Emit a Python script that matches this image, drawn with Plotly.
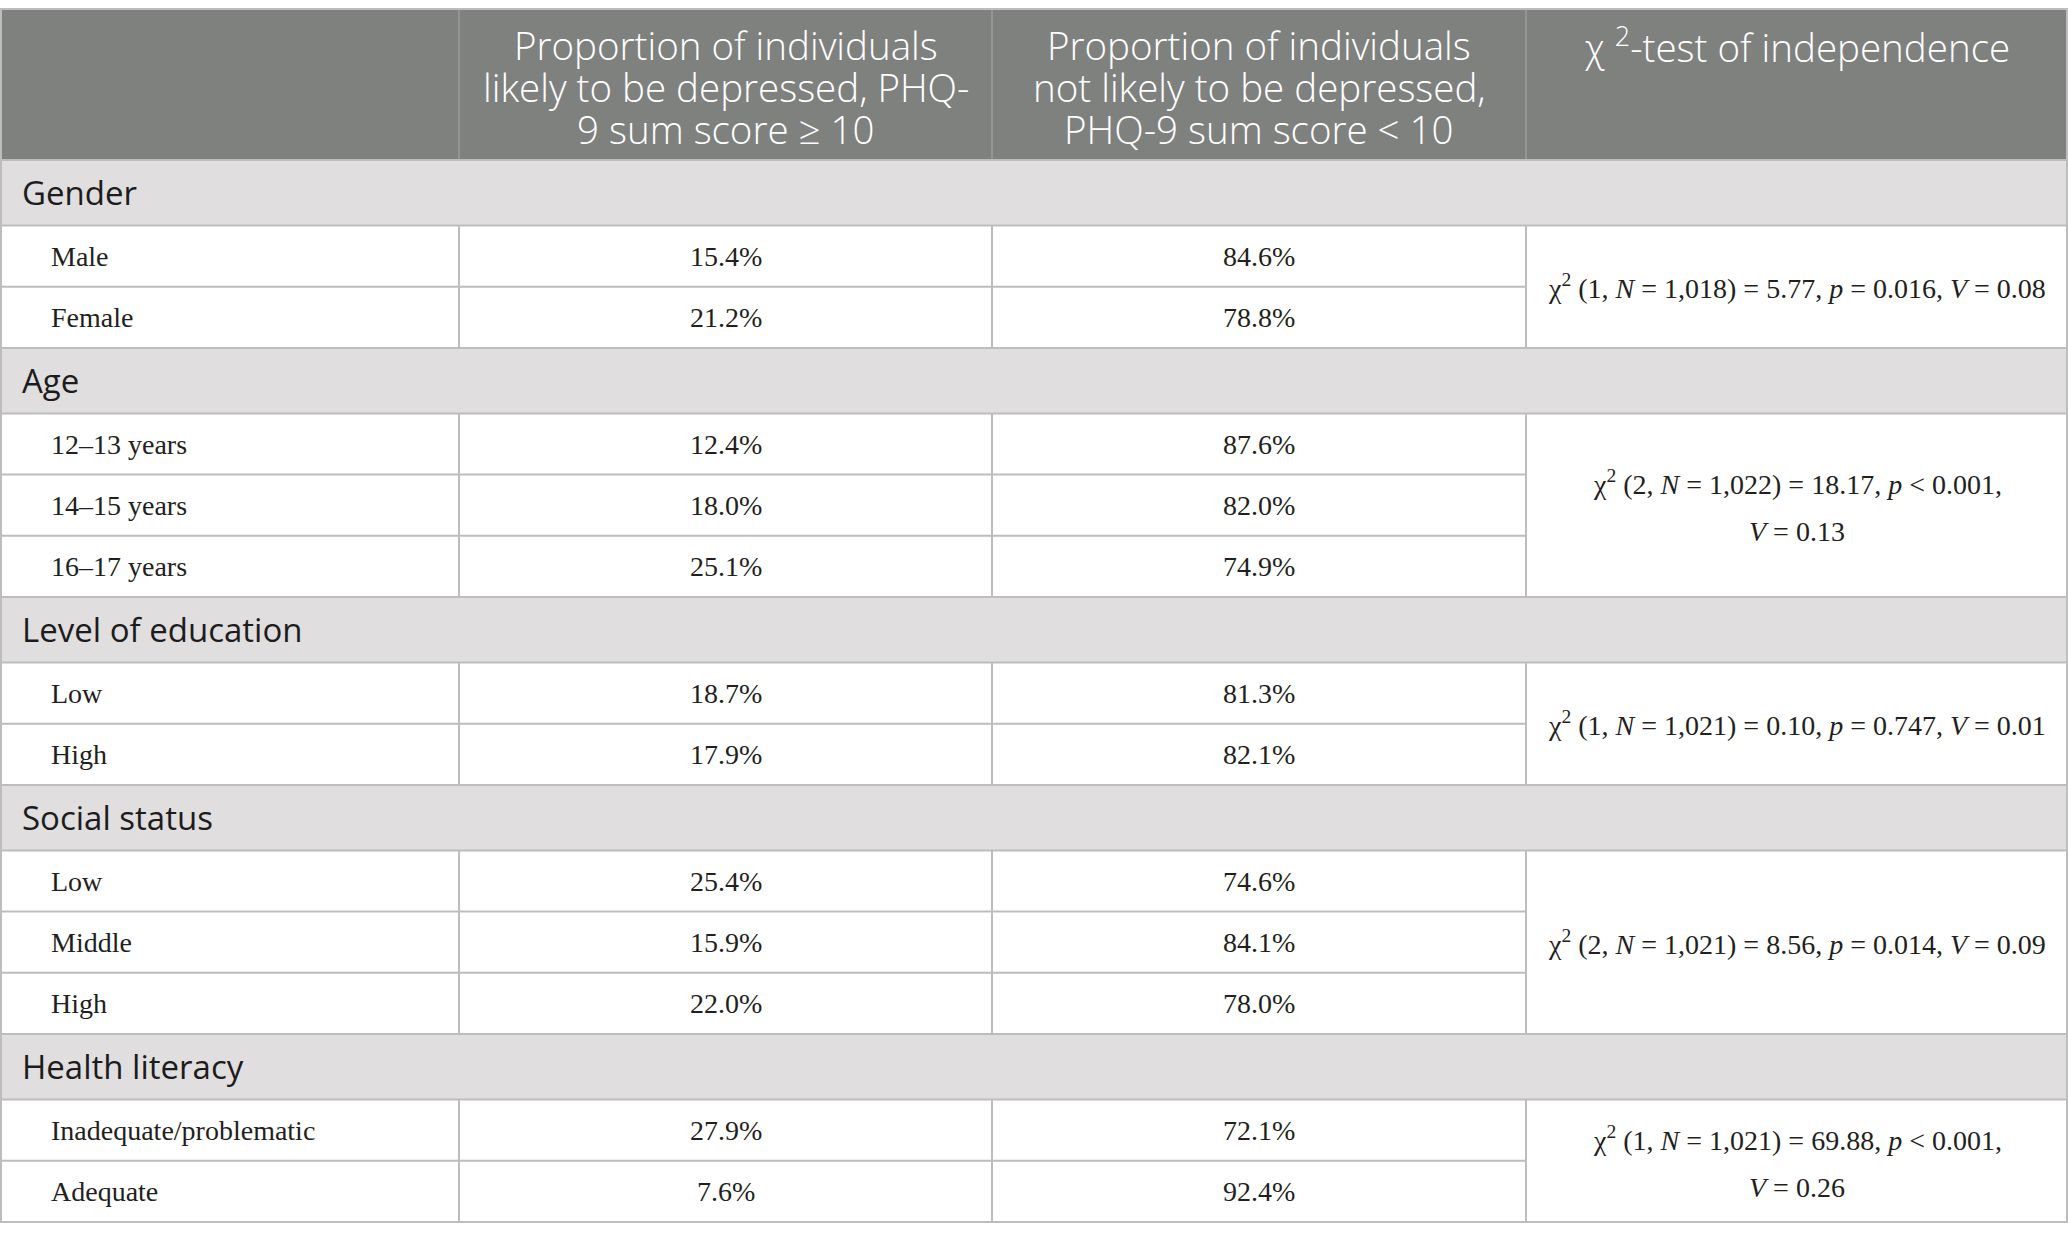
import plotly.graph_objects as go

# table content
groups = ["Gender", "Age", "Level of education", "Social status", "Health literacy"]
categories = [
    ["Male", "Female"],
    ["12–13 years", "14–15 years", "16–17 years"],
    ["Low", "High"],
    ["Low", "Middle", "High"],
    ["Inadequate/problematic", "Adequate"],
]
depressed = [[15.4, 21.2], [12.4, 18.0, 25.1], [18.7, 17.9], [25.4, 15.9, 22.0], [27.9, 7.6]]
not_depressed = [[84.6, 78.8], [87.6, 82.0, 74.9], [81.3, 82.1], [74.6, 84.1, 78.0], [72.1, 92.4]]
chi2_tests = [
    ["χ<sup>2</sup> (1, <i>N</i> = 1,018) = 5.77, <i>p</i> = 0.016, <i>V</i> = 0.08"],
    ["χ<sup>2</sup> (2, <i>N</i> = 1,022) = 18.17, <i>p</i> < 0.001,", "<i>V</i> = 0.13"],
    ["χ<sup>2</sup> (1, <i>N</i> = 1,021) = 0.10, <i>p</i> = 0.747, <i>V</i> = 0.01"],
    ["χ<sup>2</sup> (2, <i>N</i> = 1,021) = 8.56, <i>p</i> = 0.014, <i>V</i> = 0.09"],
    ["χ<sup>2</sup> (1, <i>N</i> = 1,021) = 69.88, <i>p</i> < 0.001,", "<i>V</i> = 0.26"],
]
headers = [
    [],
    ["Proportion of individuals", "likely to be depressed, PHQ-", "9 sum score ≥ 10"],
    ["Proportion of individuals", "not likely to be depressed,", "PHQ-9 sum score < 10"],
    ["χ <sup>2</sup>-test of independence"],
]

# layout (pixels)
W, H = 2068, 1241
col_x = [0, 459, 992, 1526, 2068]
top = 9
header_h = 151
sec_h = 65.5
row_h = 61.2

HEAD = "#7f817f"
SEC = "#e0dedf"
GRID = "#bdbdbd"
SANS = "Open Sans"
SERIF = "Liberation Serif"

fig = go.Figure()
shapes = []
ann = []


def hline(y, x0, x1):
    shapes.append(dict(type="line", x0=x0, x1=x1, y0=y, y1=y, line=dict(color=GRID, width=2)))


def vline(x, y0, y1, color=GRID, width=2):
    shapes.append(dict(type="line", x0=x, x1=x, y0=y0, y1=y1, line=dict(color=color, width=width)))


# header
shapes.append(dict(type="rect", x0=0, x1=W, y0=top, y1=top + header_h,
                   fillcolor=HEAD, line=dict(width=0), layer="below"))
for cx in col_x[1:-1]:
    vline(cx, top, top + header_h, color="#9a9b9a", width=1.5)
for c, lines in enumerate(headers):
    xc = (col_x[c] + col_x[c + 1]) / 2
    for i, txt in enumerate(lines):
        ann.append(dict(x=xc, y=top + 36 + 42 * i, text=txt, showarrow=False,
                        xanchor="center", yanchor="middle",
                        font=dict(family=SANS, size=38.5, color="white", weight=300)))

y = top + header_h
for g, name in enumerate(groups):
    # section row
    shapes.append(dict(type="rect", x0=0, x1=W, y0=y, y1=y + sec_h,
                       fillcolor=SEC, line=dict(width=0), layer="below"))
    hline(y, 0, W)
    ann.append(dict(x=20, y=y + sec_h / 2, text=name, showarrow=False,
                    xanchor="left", yanchor="middle",
                    font=dict(family=SANS, size=33, color="#1c1c1c")))
    y += sec_h
    hline(y, 0, W)
    g_top = y
    for k, cat in enumerate(categories[g]):
        yc = y + row_h / 2
        ann.append(dict(x=49, y=yc, text=cat, showarrow=False, xanchor="left",
                        yanchor="middle", font=dict(family=SERIF, size=28, color="#231f20")))
        for c, val in ((1, depressed[g][k]), (2, not_depressed[g][k])):
            ann.append(dict(x=(col_x[c] + col_x[c + 1]) / 2, y=yc, text=f"{val:.1f}%",
                            showarrow=False, xanchor="center", yanchor="middle",
                            font=dict(family=SERIF, size=28, color="#231f20")))
        y += row_h
        if k < len(categories[g]) - 1:
            hline(y, 0, col_x[3])
    for cx in col_x[1:-1]:
        vline(cx, g_top, y)
    # merged test cell
    lines = chi2_tests[g]
    mid = (g_top + y) / 2 + (2 if len(lines) > 1 else 0)
    for i, txt in enumerate(lines):
        ann.append(dict(x=(col_x[3] + col_x[4]) / 2, y=mid + 49 * (i - (len(lines) - 1) / 2),
                        text=txt, showarrow=False, xanchor="center", yanchor="middle",
                        font=dict(family=SERIF, size=28, color="#231f20")))

# outer border
shapes.append(dict(type="rect", x0=1, x1=W - 1, y0=top, y1=y,
                   line=dict(color=GRID, width=2), fillcolor="rgba(0,0,0,0)"))

fig.update_layout(
    width=W, height=H,
    margin=dict(l=0, r=0, t=0, b=0),
    paper_bgcolor="white", plot_bgcolor="white",
    xaxis=dict(range=[0, W], visible=False, fixedrange=True),
    yaxis=dict(range=[H, 0], visible=False, fixedrange=True),
    shapes=shapes, annotations=ann, showlegend=False,
)
fig.write_html("out.html", config={"displayModeBar": False},
               post_script="document.body.style.margin='0';")
